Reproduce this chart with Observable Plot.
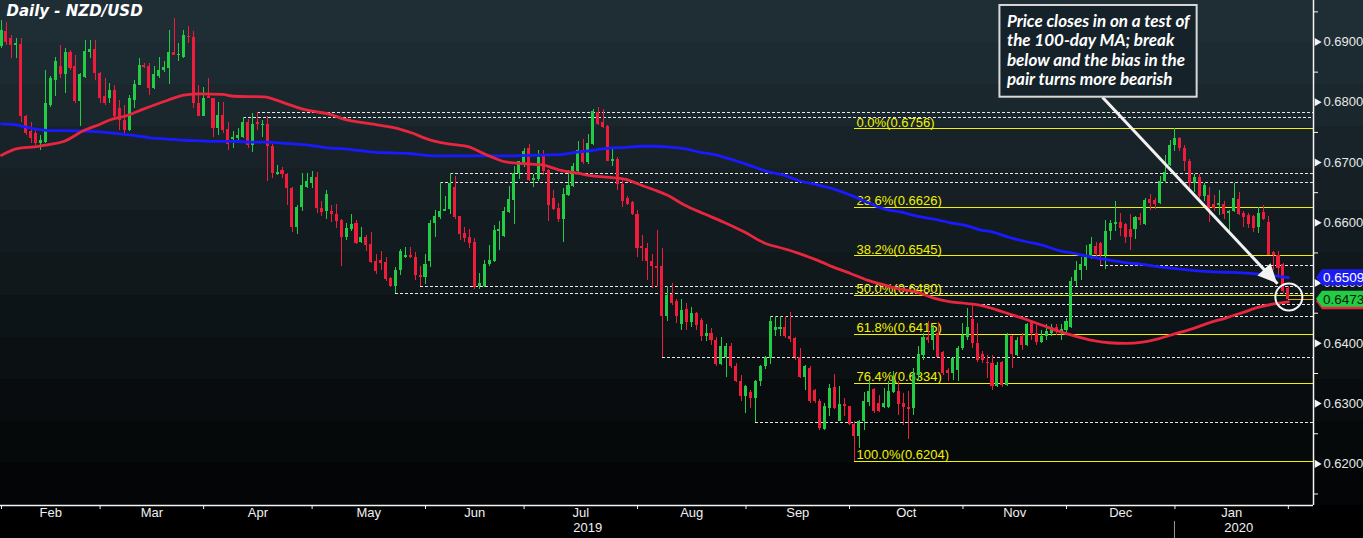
<!DOCTYPE html>
<html><head><meta charset="utf-8">
<script src="https://cdn.jsdelivr.net/npm/d3@7"></script>
<script src="https://cdn.jsdelivr.net/npm/@observablehq/plot@0.6"></script>
<style>
html,body{margin:0;padding:0;background:#000;}
#chart{position:relative;width:1363px;height:538px;overflow:hidden;}
#chart svg{display:block;}
</style></head><body><div id="chart"></div>
<script>
// ---- daily NZD/USD candles, Jan 31 2019 .. Jan 31 2020 (weekdays) ----
const opens = [
0.6892,0.6917,0.6906,0.6894,0.6896,0.6776,0.6751,0.6748,0.6731,0.6734,
0.6795,0.6836,0.6859,0.6846,0.6883,0.6859,0.6801,0.6841,0.6883,0.6887,
0.6847,0.6809,0.6806,0.6820,0.6789,0.6770,0.6753,0.6803,0.6828,0.6861,
0.6859,0.6823,0.6842,0.6853,0.6856,0.6883,0.6877,0.6875,0.6909,0.6908,
0.6798,0.6777,0.6809,0.6806,0.6756,0.6778,0.6755,0.6739,0.6740,0.6742,
0.6766,0.6729,0.6766,0.6762,0.6763,0.6727,0.6680,0.6687,0.6680,0.6657,
0.6593,0.6625,0.6659,0.6666,0.6675,0.6623,0.6618,0.6618,0.6614,0.6604,
0.6575,0.6589,0.6599,0.6567,0.6576,0.6564,0.6535,0.6537,0.6534,0.6507,
0.6494,0.6521,0.6542,0.6546,0.6542,0.6513,0.6510,0.6536,0.6599,0.6608,
0.6618,0.6622,0.6658,0.6610,0.6582,0.6575,0.6567,0.6494,0.6494,0.6531,
0.6536,0.6586,0.6578,0.6617,0.6637,0.6682,0.6695,0.6724,0.6671,0.6672,
0.6712,0.6687,0.6640,0.6623,0.6605,0.6646,0.6661,0.6685,0.6720,0.6700,
0.6730,0.6783,0.6766,0.6760,0.6702,0.6705,0.6664,0.6640,0.6633,0.6614,
0.6560,0.6558,0.6536,0.6528,0.6527,0.6444,0.6481,0.6469,0.6431,0.6456,
0.6435,0.6449,0.6438,0.6411,0.6416,0.6405,0.6365,0.6376,0.6395,0.6362,
0.6337,0.6311,0.6318,0.6308,0.6336,0.6361,0.6375,0.6422,0.6423,0.6427,
0.6412,0.6408,0.6377,0.6343,0.6359,0.6322,0.6303,0.6257,0.6292,0.6326,
0.6271,0.6299,0.6295,0.6265,0.6246,0.6270,0.6302,0.6324,0.6300,0.6293,
0.6293,0.6319,0.6320,0.6300,0.6293,0.6292,0.6347,0.6380,0.6409,0.6405,
0.6416,0.6385,0.6355,0.6350,0.6355,0.6391,0.6409,0.6440,0.6400,0.6381,
0.6369,0.6366,0.6328,0.6369,0.6330,0.6411,0.6380,0.6411,0.6397,0.6434,
0.6416,0.6402,0.6411,0.6416,0.6427,0.6420,0.6422,0.6427,0.6502,0.6521,
0.6528,0.6541,0.6560,0.6565,0.6546,0.6586,0.6597,0.6600,0.6597,0.6589,
0.6589,0.6608,0.6597,0.6638,0.6637,0.6632,0.6668,0.6695,0.6728,0.6740,
0.6724,0.6701,0.6665,0.6676,0.6643,0.6646,0.6630,0.6628,0.6631,0.6615,
0.6618,0.6639,0.6615,0.6612,0.6610,0.6593,0.6617,0.6600,0.6551,0.6546,
0.6530,0.6491];
const highs = [
0.6936,0.6933,0.6911,0.6906,0.6906,0.6778,0.6767,0.6756,0.6745,0.6853,
0.6842,0.6875,0.6894,0.6889,0.6886,0.6878,0.6847,0.6903,0.6903,0.6903,
0.6850,0.6839,0.6831,0.6828,0.6803,0.6795,0.6812,0.6836,0.6873,0.6864,
0.6864,0.6859,0.6875,0.6867,0.6919,0.6939,0.6897,0.6919,0.6926,0.6917,
0.6828,0.6825,0.6839,0.6807,0.6799,0.6799,0.6766,0.6751,0.6756,0.6774,
0.6772,0.6781,0.6783,0.6770,0.6776,0.6730,0.6695,0.6691,0.6682,0.6659,
0.6629,0.6682,0.6682,0.6685,0.6684,0.6635,0.6654,0.6629,0.6630,0.6606,
0.6599,0.6614,0.6604,0.6593,0.6579,0.6584,0.6548,0.6552,0.6542,0.6510,
0.6526,0.6556,0.6559,0.6559,0.6551,0.6528,0.6548,0.6604,0.6621,0.6667,
0.6644,0.6682,0.6677,0.6611,0.6593,0.6589,0.6574,0.6516,0.6537,0.6563,
0.6596,0.6603,0.6626,0.6661,0.6694,0.6702,0.6723,0.6730,0.6680,0.6720,
0.6720,0.6689,0.6654,0.6632,0.6657,0.6687,0.6698,0.6735,0.6738,0.6747,
0.6788,0.6792,0.6788,0.6762,0.6723,0.6708,0.6671,0.6643,0.6635,0.6620,
0.6579,0.6565,0.6548,0.6588,0.6557,0.6494,0.6499,0.6473,0.6473,0.6466,
0.6459,0.6452,0.6441,0.6431,0.6424,0.6409,0.6409,0.6400,0.6400,0.6366,
0.6347,0.6330,0.6322,0.6339,0.6364,0.6379,0.6444,0.6444,0.6444,0.6444,
0.6452,0.6409,0.6392,0.6364,0.6361,0.6323,0.6307,0.6300,0.6332,0.6348,
0.6328,0.6309,0.6296,0.6271,0.6272,0.6319,0.6337,0.6325,0.6314,0.6325,
0.6337,0.6353,0.6336,0.6317,0.6320,0.6359,0.6394,0.6416,0.6437,0.6430,
0.6435,0.6386,0.6359,0.6376,0.6394,0.6433,0.6458,0.6464,0.6433,0.6386,
0.6380,0.6380,0.6369,0.6370,0.6416,0.6413,0.6409,0.6416,0.6433,0.6437,
0.6430,0.6422,0.6431,0.6431,0.6431,0.6431,0.6442,0.6510,0.6535,0.6542,
0.6562,0.6576,0.6567,0.6568,0.6604,0.6604,0.6636,0.6615,0.6599,0.6614,
0.6610,0.6615,0.6641,0.6647,0.6641,0.6677,0.6711,0.6737,0.6756,0.6741,
0.6729,0.6705,0.6680,0.6680,0.6665,0.6659,0.6646,0.6654,0.6635,0.6621,
0.6665,0.6651,0.6618,0.6615,0.6612,0.6625,0.6629,0.6610,0.6552,0.6552,
0.6533,0.6494];
const lows = [
0.6889,0.6894,0.6872,0.6872,0.6767,0.6745,0.6731,0.6729,0.6720,0.6731,
0.6792,0.6809,0.6840,0.6814,0.6853,0.6798,0.6759,0.6839,0.6872,0.6836,
0.6798,0.6795,0.6798,0.6773,0.6753,0.6748,0.6751,0.6789,0.6828,0.6856,
0.6812,0.6821,0.6839,0.6850,0.6829,0.6877,0.6867,0.6872,0.6897,0.6789,
0.6776,0.6776,0.6806,0.6741,0.6745,0.6748,0.6720,0.6723,0.6737,0.6740,
0.6724,0.6716,0.6753,0.6742,0.6669,0.6674,0.6679,0.6674,0.6629,0.6584,
0.6581,0.6618,0.6657,0.6657,0.6615,0.6610,0.6606,0.6600,0.6590,0.6528,
0.6571,0.6585,0.6564,0.6565,0.6552,0.6532,0.6515,0.6521,0.6502,0.6492,
0.6482,0.6513,0.6541,0.6541,0.6505,0.6495,0.6498,0.6526,0.6576,0.6606,
0.6618,0.6614,0.6606,0.6570,0.6567,0.6558,0.6490,0.6490,0.6492,0.6528,
0.6534,0.6554,0.6576,0.6615,0.6598,0.6672,0.6691,0.6668,0.6658,0.6669,
0.6678,0.6603,0.6620,0.6601,0.6568,0.6643,0.6659,0.6684,0.6696,0.6697,
0.6729,0.6761,0.6756,0.6702,0.6693,0.6654,0.6626,0.6629,0.6612,0.6543,
0.6535,0.6505,0.6491,0.6492,0.6377,0.6437,0.6463,0.6433,0.6422,0.6422,
0.6427,0.6422,0.6403,0.6403,0.6397,0.6362,0.6364,0.6343,0.6359,0.6335,
0.6304,0.6284,0.6292,0.6268,0.6328,0.6356,0.6365,0.6412,0.6412,0.6408,
0.6402,0.6372,0.6342,0.6322,0.6301,0.6300,0.6256,0.6256,0.6278,0.6291,
0.6270,0.6278,0.6264,0.6204,0.6225,0.6256,0.6296,0.6284,0.6285,0.6292,
0.6292,0.6317,0.6281,0.6264,0.6241,0.6281,0.6336,0.6372,0.6400,0.6388,
0.6376,0.6347,0.6336,0.6339,0.6336,0.6388,0.6405,0.6391,0.6369,0.6366,
0.6342,0.6322,0.6326,0.6326,0.6329,0.6358,0.6379,0.6388,0.6394,0.6405,
0.6397,0.6400,0.6405,0.6411,0.6413,0.6405,0.6413,0.6424,0.6495,0.6505,
0.6521,0.6539,0.6543,0.6529,0.6523,0.6571,0.6585,0.6577,0.6565,0.6554,
0.6573,0.6596,0.6596,0.6621,0.6622,0.6630,0.6665,0.6693,0.6718,0.6718,
0.6685,0.6651,0.6651,0.6641,0.6635,0.6601,0.6618,0.6612,0.6606,0.6585,
0.6617,0.6612,0.6593,0.6590,0.6584,0.6582,0.6604,0.6545,0.6521,0.6510,
0.6483,0.6471];
const closes = [
0.6919,0.6900,0.6894,0.6897,0.6776,0.6748,0.6740,0.6731,0.6737,0.6798,
0.6839,0.6867,0.6846,0.6883,0.6856,0.6801,0.6846,0.6885,0.6887,0.6847,
0.6807,0.6798,0.6820,0.6776,0.6769,0.6753,0.6806,0.6829,0.6861,0.6857,
0.6823,0.6846,0.6853,0.6857,0.6883,0.6877,0.6879,0.6910,0.6907,0.6798,
0.6777,0.6806,0.6806,0.6756,0.6778,0.6753,0.6730,0.6742,0.6745,0.6767,
0.6729,0.6763,0.6763,0.6763,0.6726,0.6682,0.6684,0.6680,0.6657,0.6593,
0.6626,0.6662,0.6668,0.6675,0.6623,0.6617,0.6647,0.6614,0.6603,0.6575,
0.6590,0.6597,0.6565,0.6576,0.6563,0.6534,0.6519,0.6533,0.6506,0.6494,
0.6521,0.6553,0.6546,0.6542,0.6512,0.6510,0.6531,0.6599,0.6610,0.6619,
0.6622,0.6666,0.6608,0.6581,0.6574,0.6565,0.6492,0.6499,0.6531,0.6538,
0.6588,0.6589,0.6619,0.6639,0.6682,0.6701,0.6719,0.6671,0.6674,0.6708,
0.6685,0.6628,0.6622,0.6605,0.6647,0.6662,0.6694,0.6720,0.6700,0.6732,
0.6784,0.6763,0.6758,0.6702,0.6705,0.6663,0.6635,0.6631,0.6614,0.6558,
0.6557,0.6535,0.6527,0.6525,0.6444,0.6480,0.6466,0.6444,0.6455,0.6435,
0.6450,0.6430,0.6411,0.6416,0.6405,0.6365,0.6394,0.6395,0.6361,0.6336,
0.6311,0.6329,0.6308,0.6337,0.6362,0.6376,0.6437,0.6426,0.6427,0.6411,
0.6406,0.6376,0.6343,0.6362,0.6303,0.6303,0.6259,0.6295,0.6325,0.6292,
0.6298,0.6295,0.6265,0.6246,0.6270,0.6303,0.6320,0.6287,0.6287,0.6300,
0.6320,0.6338,0.6298,0.6293,0.6291,0.6348,0.6381,0.6409,0.6405,0.6424,
0.6377,0.6350,0.6350,0.6375,0.6391,0.6413,0.6427,0.6400,0.6372,0.6372,
0.6366,0.6328,0.6364,0.6330,0.6413,0.6381,0.6405,0.6397,0.6431,0.6416,
0.6402,0.6411,0.6419,0.6427,0.6419,0.6423,0.6437,0.6503,0.6521,0.6531,
0.6542,0.6564,0.6547,0.6546,0.6586,0.6599,0.6600,0.6591,0.6575,0.6575,
0.6608,0.6604,0.6637,0.6632,0.6631,0.6669,0.6684,0.6729,0.6740,0.6724,
0.6701,0.6665,0.6676,0.6643,0.6662,0.6618,0.6623,0.6632,0.6614,0.6619,
0.6640,0.6614,0.6608,0.6597,0.6590,0.6616,0.6606,0.6546,0.6546,0.6524,
0.6486,0.6473];

// ---- moving averages (candle index, value) ----
const ma100Idx = [0,3.2,6.6,9.9,12.6,16.7,20.1,22.1,25.5,28.9,33.6,37,40.4,44.8,47.1,53.2,57.3,60.6,64,66.7,69.1,75.9,80.6,83.3,86,88,91.4,94.8,97.5,99.5,102.2,106.3,109.7,113,117.1,119.8,123.9,126.6,129.9,132.6,135,138.4,142.5,146.5,150.6,154.6,158.7,161.4,165.4,169.5,172.2,175.6,179,182.3,185.7,189.1,192.5,195.9,198.6,200.9,204.3,207.7,211.1,214.5,217.8,221.2,224.6,228,231.4,234.8,238.1,241.5,244.9,248.3,251.7,255,258.4,261];
const ma100 = [0.6712,0.6723,0.6726,0.6730,0.6735,0.6753,0.6764,0.6771,0.6778,0.6789,0.6803,0.6812,0.6814,0.6813,0.6810,0.6809,0.6799,0.6790,0.6784,0.6780,0.6773,0.6763,0.6756,0.6749,0.6740,0.6735,0.6730,0.6726,0.6716,0.6709,0.6701,0.6698,0.6696,0.6688,0.6682,0.6678,0.6675,0.6672,0.6662,0.6654,0.6646,0.6630,0.6615,0.6601,0.6585,0.6567,0.6557,0.6550,0.6538,0.6524,0.6516,0.6505,0.6497,0.6490,0.6485,0.6475,0.6469,0.6466,0.6463,0.6458,0.6449,0.6440,0.6430,0.6420,0.6412,0.6405,0.6401,0.6400,0.6402,0.6408,0.6416,0.6424,0.6434,0.6442,0.6451,0.6460,0.6466,0.6469];
const ma200Idx = [0,3.2,6.6,9.9,13.3,16.7,20.1,23.5,26.8,30.2,33.6,37,40.4,43.7,47.1,50.5,53.9,57.3,60.6,64,66.7,69.1,72.5,75.9,79.2,82.6,86,89.4,96.1,102.9,106.3,113,116.4,119.8,123.2,126.6,129.9,132.6,135,138.4,141.8,145.2,148.5,151.9,155.3,158.7,162.1,165.4,168.8,172.2,175.6,179,182.3,185.7,189.1,192.5,195.9,198.6,200.9,204.3,207.7,211.1,214.5,217.8,221.2,224.6,228,231.4,234.8,238.1,241.5,244.9,248.3,251.7,255,258.4,261];
const ma200 = [0.6764,0.6762,0.6756,0.6753,0.6753,0.6752,0.6751,0.6748,0.6745,0.6741,0.6739,0.6737,0.6736,0.6735,0.6735,0.6734,0.6734,0.6732,0.6730,0.6727,0.6724,0.6723,0.6720,0.6717,0.6716,0.6715,0.6712,0.6711,0.6711,0.6711,0.6712,0.6713,0.6717,0.6720,0.6724,0.6725,0.6727,0.6727,0.6726,0.6723,0.6717,0.6712,0.6704,0.6695,0.6685,0.6679,0.6669,0.6663,0.6656,0.6646,0.6634,0.6623,0.6618,0.6611,0.6606,0.6600,0.6595,0.6588,0.6585,0.6576,0.6569,0.6563,0.6554,0.6549,0.6543,0.6538,0.6534,0.6531,0.6527,0.6524,0.6521,0.6519,0.6518,0.6517,0.6515,0.6512,0.6509];

// ---- support / resistance (dotted) lines: start candle and level ----
const levelStart = [52,49,91,89,223,85,80,197,156,134,153];
const levelValue = [0.6783,0.6774,0.6681,0.6667,0.6529,0.6495,0.6482,0.6464,0.6445,0.6377,0.6268];

// ---- Fibonacci retracement ----
const fibPct = ["0.0%","23.6%","38.2%","50.0%","61.8%","76.4%","100.0%"];
const fibLevel = [0.6756,0.6626,0.6545,0.6480,0.6415,0.6334,0.6204];
const fibStart = 173;

// ---- axis ticks ----
const yMajor = [0.62,0.63,0.64,0.65,0.66,0.67,0.68,0.69];
const yMinor = [0.615,0.625,0.635,0.645,0.655,0.665,0.675,0.685,0.695];
const yearMarks = [{year:"2019", month:"Jul"}, {year:"2020", month:"Jan"}];

// ---- annotation ----
const noteText = "Price closes in on a test of\nthe 100-day MA; break\nbelow and the bias in the\npair turns more bearish";
const noteBox = {x1: 202.5, x2: 242.5, y1: 0.68084, y2: 0.69606};
const noteArrow = {x1: 223.3, y1: 0.68084, x2: 258.8, y2: 0.64988};
const noteCircle = {x: 261.1, y: 0.6477};
const title = "Daily - NZD/USD";

// ---- colours / fonts ----
const GREEN = "#22cc44", RED = "#f01c3c", MA100C = "#e8263f", MA200C = "#1a1aff";
const YEL = "#f2f200";
const FONT = "'Liberation Sans', Arial, sans-serif";
const NOTEFONT = "Lato, 'DejaVu Sans', sans-serif";
const TITLEFONT = "'DejaVu Sans', Verdana, sans-serif";

// ---- derived tables ----
const dates = d3.timeDay.range(new Date(2019,0,31), new Date(2020,1,1)).filter(d => d.getDay() !== 0 && d.getDay() !== 6);
const candles = opens.map((o, i) => ({i, o, h: highs[i], l: lows[i], c: closes[i], up: closes[i] >= opens[i]}));
const bodyLo = d => { const lo = Math.min(d.o, d.c), hi = Math.max(d.o, d.c); return hi - lo < 0.00012 ? (lo + hi) / 2 - 0.00008 : lo; };
const bodyHi = d => { const lo = Math.min(d.o, d.c), hi = Math.max(d.o, d.c); return hi - lo < 0.00012 ? (lo + hi) / 2 + 0.00008 : hi; };
const ma100Data = ma100Idx.map((x, k) => ({x, y: ma100[k]}));
const ma200Data = ma200Idx.map((x, k) => ({x, y: ma200[k]}));
const levels = levelStart.map((s, k) => ({s, y: levelValue[k]}));
const fib = fibLevel.map((y, k) => ({y, label: `${fibPct[k]}(${y.toFixed(4)})`}));

const monthEnd = [];
for (let i = 0; i < dates.length; i++) {
  if (i === dates.length - 1 || dates[i + 1].getMonth() !== dates[i].getMonth()) monthEnd.push(i);
}
const fmtMon = d3.timeFormat("%b");
const monthMid = [];
for (let k = 0; k + 1 < monthEnd.length; k++) {
  monthMid.push({x: (monthEnd[k] + monthEnd[k + 1]) / 2, label: fmtMon(dates[monthEnd[k + 1]])});
}
const yearLbl = yearMarks.map(m => ({x: monthMid.find(d => d.label === m.month).x, label: m.year}));
let yearSep = null;
for (let i = 1; i < dates.length - 1; i++) if (dates[i + 1].getFullYear() !== dates[i].getFullYear()) yearSep = i;

const xDomain = [-0.2, 266.1];
const yDomain = [0.613096, 0.696886];
const last = candles.length - 1;

const chart = Plot.plot({
  width: 1363, height: 538,
  marginTop: 0, marginRight: 50, marginBottom: 33, marginLeft: 0,
  x: {domain: xDomain, axis: null},
  y: {domain: yDomain, axis: null},
  style: {background: "transparent", overflow: "visible"},
  marks: [
    // dotted support/resistance
    Plot.ruleY(levels, {y: "y", x1: "s", x2: () => xDomain[1], stroke: "#e8e8e8", strokeWidth: 1, strokeDasharray: "3,2", shapeRendering: "crispEdges"}),
    // fib lines + labels
    Plot.ruleY(fib, {y: "y", x1: () => fibStart, x2: () => xDomain[1], stroke: YEL, strokeWidth: 1, shapeRendering: "crispEdges"}),
    Plot.text(fib, {x: () => fibStart, y: "y", text: "label", textAnchor: "start", lineAnchor: "bottom", dx: 2, dy: -2, fill: YEL, fontSize: 13, fontFamily: FONT}),
    // candles
    Plot.ruleX(candles, {x: "i", y1: "l", y2: "h", stroke: d => d.up ? GREEN : RED, strokeWidth: 1, shapeRendering: "crispEdges"}),
    Plot.rect(candles, {x1: d => d.i - 0.31, x2: d => d.i + 0.31, y1: bodyLo, y2: bodyHi, fill: d => d.up ? GREEN : RED, shapeRendering: "crispEdges"}),
    // moving averages
    Plot.line(ma200Data, {x: "x", y: "y", stroke: MA200C, strokeWidth: 2.8, curve: "monotone-x"}),
    Plot.line(ma100Data, {x: "x", y: "y", stroke: MA100C, strokeWidth: 2.8, curve: "monotone-x"}),
    // last price line
    Plot.ruleY([candles[last]], {y: "c", x1: "i", x2: () => xDomain[1], stroke: "#e8a317", strokeWidth: 1, shapeRendering: "crispEdges"}),
    // frame lines
    Plot.ruleY([yDomain[0]], {stroke: "#f4f4f4", strokeWidth: 1.5}),
    Plot.ruleX([xDomain[1]], {stroke: "#f4f4f4", strokeWidth: 1.5}),
    // x axis
    Plot.axisX({ticks: monthEnd, tickSize: 4, tickFormat: () => "", color: "#f4f4f4"}),
    Plot.text(monthMid, {x: "x", text: "label", frameAnchor: "bottom", dy: 11, fill: "#f0f0f0", fontSize: 13, fontFamily: FONT}),
    Plot.text(yearLbl, {x: "x", text: "label", frameAnchor: "bottom", dy: 26, dx: 7, fill: "#f0f0f0", fontSize: 13, fontFamily: FONT}),
    // y axis
    Plot.axisY({anchor: "right", ticks: yMinor, tickSize: 4, tickFormat: () => "", color: "#f4f4f4"}),
    Plot.axisY({anchor: "right", ticks: yMajor, tickSize: 0, tickPadding: 10, tickFormat: d3.format(".4f"), color: "#e8e8e8", fontSize: 13, fontFamily: FONT}),
    Plot.dot(yMajor, {x: () => xDomain[1], y: d => d, symbol: "triangle", rotate: 90, r: 3, fill: "#f4f4f4", dx: 3.5}),
    // annotation
    Plot.dot([noteCircle], {x: "x", y: "y", r: 13.5, stroke: "#f4f4f4", strokeWidth: 2, fill: "none"}),
    Plot.link([noteArrow], {x1: "x1", y1: "y1", x2: "x2", y2: "y2", stroke: "#f2f2f2", strokeWidth: 3}),
    Plot.rect([noteBox], {x1: "x1", x2: "x2", y1: "y1", y2: "y2", fill: "#16222a", stroke: "#d8d8d8", strokeWidth: 2}),
    Plot.text([noteText], {x: () => noteBox.x1, y: () => noteBox.y2, text: d => d, dx: 7, dy: 7.5, lineAnchor: "top", textAnchor: "start", lineHeight: 1.15, fill: "#ffffff", fontSize: 17, fontStyle: "italic", fontWeight: "bold", fontFamily: NOTEFONT}),
    // title
    Plot.text([title], {frameAnchor: "top-left", text: d => d, dx: 6, dy: 5, lineAnchor: "top", textAnchor: "start", fill: "#ffffff", fontSize: 15, fontStyle: "italic", fontWeight: "bold", fontFamily: TITLEFONT})
  ]
});

// background: banded dark gradient
(function () {
  const bands = 12, step = 505 / bands;
  const ip = d3.interpolateRgb("#1f2e35", "#030506");
  const stops = [];
  for (let k = 0; k < bands; k++) {
    const c = ip(k / (bands - 1));
    stops.push(`${c} ${(k * step).toFixed(1)}px`, `${c} ${((k + 1) * step).toFixed(1)}px`);
  }
  stops.push("#000 505px", "#000 538px");
  document.getElementById("chart").style.background = `linear-gradient(to bottom, ${stops.join(",")})`;
})();

document.getElementById("chart").append(chart);

// decorations positioned through the plot's own scales
const sx = chart.scale("x"), sy = chart.scale("y");
const X = v => sx.apply(v), Y = v => sy.apply(v);
const g = d3.select(chart).append("g").attr("text-anchor", "start");
// arrow head
{
  const ax1 = X(noteArrow.x1), ay1 = Y(noteArrow.y1), ax2 = X(noteArrow.x2), ay2 = Y(noteArrow.y2);
  const len = Math.hypot(ax2 - ax1, ay2 - ay1), ux = (ax2 - ax1) / len, uy = (ay2 - ay1) / len;
  const L = 19, Wd = 9;
  const bx = ax2 - ux * L, by = ay2 - uy * L;
  g.append("path")
    .attr("d", `M${ax2},${ay2}L${bx - uy * Wd},${by + ux * Wd}L${bx + uy * Wd},${by - ux * Wd}Z`)
    .attr("fill", "#f2f2f2");
}
// year separator under the axis
if (yearSep !== null) {
  g.append("line").attr("x1", X(yearSep)).attr("x2", X(yearSep)).attr("y1", 538 - 17).attr("y2", 538)
    .attr("stroke", "#9a9a9a").attr("stroke-width", 1);
}
// price tags on the right axis
{
  const xr = X(xDomain[1]);
  const fmt = d3.format(".4f");
  const tag = (v, bg, fg, withText) => {
    const y = Y(v), hh = 8;
    g.append("path")
      .attr("d", `M${xr + 3},${y}L${xr + 9},${y - hh}L1363,${y - hh}L1363,${y + hh}L${xr + 9},${y + hh}Z`)
      .attr("fill", bg);
    if (withText) g.append("text").attr("x", xr + 10).attr("y", y).attr("dy", "0.36em")
      .attr("text-anchor", "start").attr("fill", fg).attr("font-size", 13.5).attr("font-family", FONT).text(fmt(v));
  };
  tag(ma100[ma100.length - 1], MA100C, "#fff", false);
  tag(closes[last], GREEN, "#051a05", true);
  tag(ma200[ma200.length - 1], "#1c1cf2", "#ffffff", true);
}
</script>
</body></html>
